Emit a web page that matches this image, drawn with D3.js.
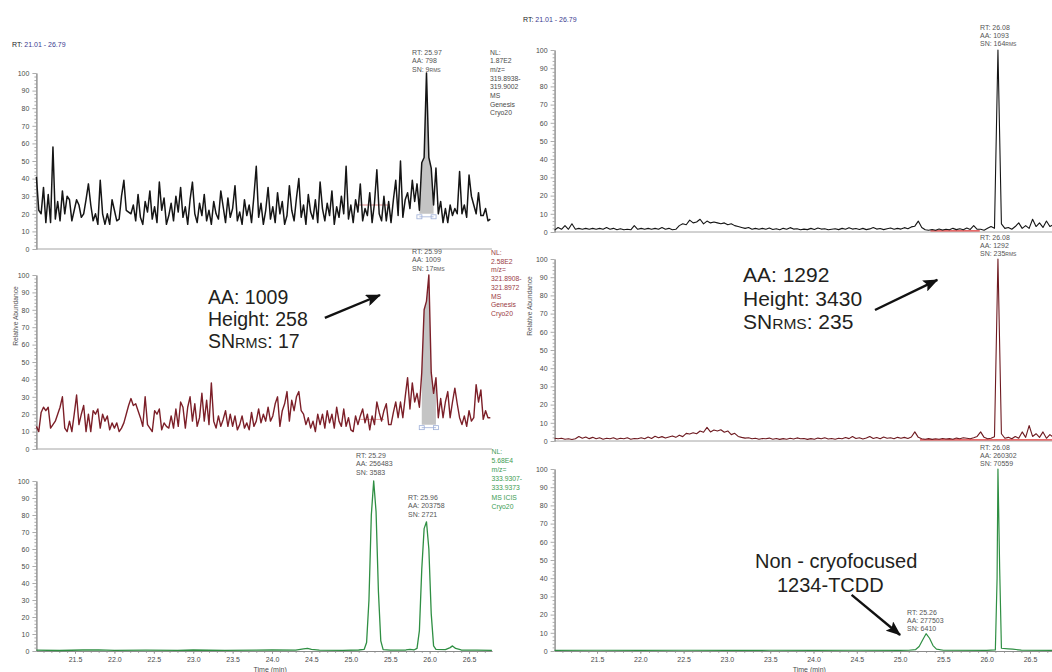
<!DOCTYPE html>
<html>
<head>
<meta charset="utf-8">
<script src="https://d3js.org/d3.v7.min.js"></script>
<style>
  body { margin: 0; background: #fff; }
  text { font-family: "Liberation Sans", Arial, sans-serif; }
</style>
</head>
<body>
<div id="vis"></div>
<script>
// ---- data ----
var timeRange = [21.01, 26.79];
var scanStart = 21.01;
var leftStep = 0.03;   // scan interval of left chromatograms (min)
var rightStep = 0.04;  // scan interval of right chromatograms (min)

// left, m/z 319.8938 (black)
var leftTop = [
  41,22,20,35,15,31,15,58,17,27,
  16,33,20,30,28,16,22,28,25,18,
  20,28,37,25,16,20,14,39,20,14,
  20,14,28,22,16,17,30,39,22,21,
  20,25,16,31,18,14,27,21,33,17,
  24,15,38,22,29,14,19,26,16,30,
  21,35,18,24,14,28,38,20,15,26,
  19,31,16,22,14,27,20,17,33,24,
  15,29,18,23,36,16,21,14,28,19,
  25,15,30,47,18,26,14,22,35,17,
  24,15,32,20,27,14,19,36,22,16,
  29,40,18,25,14,31,21,17,28,15,
  38,23,16,26,19,33,14,24,18,30,
  20,47,17,25,15,28,21,37,16,23,
  19,32,15,26,45,20,16,30,16,27,
  15,28,39,19,50,18,28,32,23,39,
  27,37,22,49,52,100,52,46,25,46,
  20,27,15,23,15,25,19,23,20,44,
  20,25,18,42,30,25,20,32,19,19,
  23,16,17
];

// left, m/z 321.8908 (dark red)
var leftMid = [
  13,10,21,24,22,24,12,14,16,20,
  24,30,12,10,16,10,20,31,14,20,
  25,10,20,10,22,20,23,12,20,16,
  19,11,15,12,15,10,12,15,20,25,
  29,25,26,22,18,13,30,14,12,10,
  22,20,23,11,15,13,12,19,12,23,
  13,27,24,12,24,30,16,26,13,18,
  32,16,28,14,38,16,12,19,13,17,
  22,13,20,13,19,11,14,19,12,15,
  11,21,13,16,23,15,20,16,24,16,
  19,26,30,13,22,26,33,16,28,22,
  30,33,22,20,14,18,12,16,10,20,
  14,20,12,22,15,20,12,24,16,13,
  23,13,18,11,10,19,14,19,23,15,
  20,11,19,14,27,21,16,22,26,14,
  14,21,27,18,27,18,30,41,23,38,
  27,32,24,44,80,85,100,44,32,41,
  18,29,18,27,33,18,27,35,26,18,
  14,19,13,22,16,18,37,27,34,17,
  22,18,18
];

// left, m/z 333.9307 (green)
var leftBotTimes = [21.01,21.3,21.6,21.8,22.0,22.4,22.8,23.0,23.4,23.8,24.0,24.3,24.4,24.45,24.5,24.6,24.9,25.1,25.17,
  25.2,25.23,25.26,25.29,25.32,25.35,25.38,25.41,25.5,25.7,25.75,25.8,25.84,25.87,25.9,25.93,25.96,25.99,26.02,26.05,
  26.08,26.2,26.26,26.29,26.33,26.4,26.6,26.79];
var leftBotValues = [0.5,0.3,0.6,0.7,0.4,0.5,0.4,0.6,0.4,0.5,0.6,0.5,1.2,1.6,1.0,0.5,0.4,0.6,1.0,
  5,30,80,100,82,35,6,0.8,0.5,0.6,1.0,0.6,1.5,12,48,72,76,60,22,3,
  1.0,0.8,2.0,3.0,1.5,0.6,0.5,0.4];

// right, cryofocused (black)
var rightTop = [
  1,2.5,1.5,3.5,1.5,4.5,1.5,2,1.5,2,
  1.5,2,1.5,2,1.5,2.5,1.5,2,1.2,1.8,
  1.2,1.5,1.2,3.5,1.5,2,1.5,2,1.5,2,
  1.5,2.5,1.5,2,1.2,1.5,3.5,4.5,4,6.5,
  5,5.5,7,4.5,6,5,5.5,5,4.5,5,
  4,4.5,3.5,3,2.5,2,2.5,1.5,2,1.5,
  2,1.5,2.2,1.4,1.8,1.2,2,1.5,2.4,1.6,
  1.8,1.2,1.6,1.3,2,1.4,2.2,1.6,1.8,1.2,
  1.5,1.8,1.3,2,1.5,2.4,1.6,1.9,1.4,2,
  1.3,1.7,2.5,1.6,1.9,1.3,1.8,2.2,1.5,2,
  1.6,2.4,1.8,2.8,3.2,6,2.5,1.2,1,1.4,
  1,1.6,1.1,1.5,1.2,2,1.3,1.8,1.2,2.2,
  1.4,3.5,1.5,1.5,1,2,3,2,100,4.5,
  2,2.5,1.5,3,5,2,3.5,2,7,3,
  5,2.5,6,3,4
];

// right, cryofocused (dark red)
var rightMid = [
  1.5,1.2,1.5,1,1.2,0.8,1.2,2.5,1.5,2.2,
  1.3,2,1.2,1.8,1,1.5,1.2,1.8,1,1.5,
  1.2,1.8,1,1.4,1.2,1.8,1.2,2.2,1.4,2.6,
  1.8,2.4,1.6,2.2,2.8,2,3.2,2.4,4.2,3.8,
  4.5,4,5.5,4.8,7.5,5,6,5.5,6.2,4.8,
  5.5,3.5,4.2,2.5,2,1.6,1.8,1.2,1.5,1,
  1.4,1.2,1.6,1,1.4,0.9,1.3,1,1.5,1.1,
  1.7,1.2,1.4,0.9,1.3,1,1.6,1.2,1.8,1.1,
  1.4,1,1.5,1.2,1.9,1.3,2.5,1.4,1.8,1.1,
  1.6,2.5,1.4,1.9,1.2,2.2,1.5,1.8,1.2,2,
  1.5,2,1.4,2.2,5,2,1.2,1,1.3,0.9,
  1.2,1,1.4,1.1,1.3,1,1.6,1.2,1.8,1.5,
  1.2,1.8,2.5,5,2,1.2,1.5,2.4,100,4,
  1.5,2,1.2,2.5,1.5,5,2,8.5,2.5,4,
  2,5,1.5,3.5,2
];

// right, non-cryofocused (green)
var rightBotTimes = [21.01,21.5,22.0,22.5,23.0,23.5,24.0,24.5,25.0,25.1,25.18,25.22,25.26,25.3,25.34,25.38,25.42,25.5,
  26.0,26.1,26.12,26.13,26.15,26.17,26.25,26.3,26.4,26.79];
var rightBotValues = [0.3,0.4,0.3,0.4,0.3,0.4,0.3,0.4,0.3,0.4,0.8,2.5,6,9.5,7,3,1,0.4,
  0.3,0.6,40,100,45,1.5,1.2,1,0.5,0.3];

var yTicks = [0,10,20,30,40,50,60,70,80,90,100];
var xTicks = [21.5,22.0,22.5,23.0,23.5,24.0,24.5,25.0,25.5,26.0,26.5];
var xTickLabels = ["21.5","22.0","22.5","23.0","23.5","24.0","24.5","25.0","25.5","26.0","26.5"];

// ---- drawing ----
var svg = d3.select("#vis").append("svg")
  .attr("width", 1052).attr("height", 672)
  .style("display", "block").style("background", "#fff");

var xL = d3.scaleLinear().domain(timeRange).range([36.4, 491.9]);
var xR = d3.scaleLinear().domain(timeRange).range([554.6, 1055.1]);

function yScale(bottom, top) {
  return d3.scaleLinear().domain([0, 100]).range([bottom, top]);
}
function uniform(vals, step) {
  return vals.map(function(v, i) { return [scanStart + i * step, v]; });
}
function paired(ts, vs) {
  return ts.map(function(t, i) { return [t, vs[i]]; });
}

var panels = {
  lt: {x: xL, y: yScale(249, 73),  data: uniform(leftTop, leftStep),  color: "#151515", w: 1.5},
  lm: {x: xL, y: yScale(449, 275), data: uniform(leftMid, leftStep),  color: "#7c1f28", w: 1.4},
  lb: {x: xL, y: yScale(651, 481), data: paired(leftBotTimes, leftBotValues), color: "#2f8f43", w: 1.3, xAxis: true},
  rt: {x: xR, y: yScale(232, 50),  data: uniform(rightTop, rightStep), color: "#151515", w: 1.1},
  rm: {x: xR, y: yScale(441, 259), data: uniform(rightMid, rightStep), color: "#6e1a20", w: 1.1},
  rb: {x: xR, y: yScale(651, 469), data: paired(rightBotTimes, rightBotValues), color: "#2f8f43", w: 1.2, xAxis: true}
};

var yMinor = d3.range(0, 101, 2).filter(function(d) { return d % 10 !== 0; });
var xMinor = d3.range(21.1, 26.75, 0.1);

function styleAxis(g) {
  g.attr("font-size", 7).attr("font-family", "Liberation Sans, Arial, sans-serif");
  g.selectAll("path.domain").attr("stroke", "#8a8a8a").attr("stroke-width", 0.9);
  g.selectAll(".tick line").attr("stroke", "#8a8a8a").attr("stroke-width", 0.7);
  g.selectAll(".tick text").attr("fill", "#4a4a4a");
}

Object.keys(panels).forEach(function(k) {
  var p = panels[k];
  var x0 = p.x.range()[0];
  var g = svg.append("g");

  // y axis
  g.append("g").attr("transform", "translate(" + x0 + ",0)")
    .call(d3.axisLeft(p.y).tickValues(yMinor).tickSize(2).tickSizeOuter(0).tickFormat(""))
    .call(styleAxis);
  g.append("g").attr("transform", "translate(" + x0 + ",0)")
    .call(d3.axisLeft(p.y).tickValues(yTicks).tickSize(4).tickSizeOuter(0).tickPadding(3).tickFormat(d3.format("d")))
    .call(styleAxis);

  if (p.xAxis) {
    g.append("g").attr("transform", "translate(0," + p.y(0) + ")")
      .call(d3.axisBottom(p.x).tickValues(xMinor).tickSize(2).tickSizeOuter(0).tickFormat(""))
      .call(styleAxis);
    g.append("g").attr("transform", "translate(0," + p.y(0) + ")")
      .call(d3.axisBottom(p.x).tickValues(xTicks).tickSize(3).tickSizeOuter(0).tickPadding(3)
        .tickFormat(function(d, i) { return xTickLabels[i]; }))
      .call(styleAxis);
    g.append("text")
      .attr("x", (p.x.range()[0] + Math.min(p.x.range()[1], 1052)) / 2 + 6)
      .attr("y", 672).attr("text-anchor", "middle")
      .attr("font-size", 7).attr("fill", "#4a4a4a").text("Time (min)");
  } else {
    g.append("line")
      .attr("x1", x0).attr("x2", p.x.range()[1])
      .attr("y1", p.y(0)).attr("y2", p.y(0))
      .attr("stroke", "#9a9a9a").attr("stroke-width", 0.9);
  }
  p.g = g;
});

// noise (baseline) regions drawn in red
var noiseSegs = [
  {panel: "lt", t0: 25.05, t1: 25.5, v: 25, color: "#e08a8a"},
  {panel: "lm", t0: 25.12, t1: 25.42, v: 17, color: "#e8a0a0"},
  {panel: "rt", t0: 25.35, t1: 25.92, v: 0.6, color: "#e03a3a"},
  {panel: "rm", t0: 25.23, t1: 26.79, v: 0.6, color: "#e03a3a"}
];
noiseSegs.forEach(function(s) {
  var p = panels[s.panel];
  p.g.append("line")
    .attr("x1", p.x(s.t0)).attr("x2", p.x(s.t1))
    .attr("y1", p.y(s.v)).attr("y2", p.y(s.v))
    .attr("stroke", s.color).attr("stroke-width", 1.1);
});

// integrated peak areas (index range into the scan arrays, baseline level)
var integ = [
  {panel: "lt", from: 162, to: 168, base: 20},
  {panel: "lm", from: 163, to: 169, base: 14}
];
integ.forEach(function(r) {
  var p = panels[r.panel];
  var pts = p.data.slice(r.from, r.to + 1);
  var area = d3.area()
    .x(function(d) { return p.x(d[0]); })
    .y0(p.y(r.base))
    .y1(function(d) { return p.y(d[1]); });
  p.g.append("path").datum(pts).attr("d", area)
    .attr("fill", "#c4c4c4").attr("stroke", "none");
  var xa = p.x(pts[0][0]), xb = p.x(pts[pts.length - 1][0]), yb = p.y(r.base) + 3;
  p.g.append("line").attr("x1", xa).attr("x2", xb).attr("y1", yb).attr("y2", yb)
    .attr("stroke", "#9fb0d8").attr("stroke-width", 0.8);
  [xa, xb].forEach(function(xx) {
    p.g.append("rect").attr("x", xx - 2.5).attr("y", yb - 2).attr("width", 5).attr("height", 4)
      .attr("fill", "none").attr("stroke", "#9fb0d8").attr("stroke-width", 0.8);
  });
});

// traces
Object.keys(panels).forEach(function(k) {
  var p = panels[k];
  var line = d3.line()
    .x(function(d) { return p.x(d[0]); })
    .y(function(d) { return p.y(d[1]); });
  p.g.append("path").datum(p.data).attr("d", line)
    .attr("fill", "none").attr("stroke", p.color)
    .attr("stroke-width", p.w).attr("stroke-linejoin", "round");
});

// ---- text ----
function rtHeader(x, y) {
  var t = svg.append("text").attr("x", x).attr("y", y).attr("font-size", 7);
  t.append("tspan").attr("fill", "#222").text("RT: ");
  t.append("tspan").attr("fill", "#3b3b8f").text("21.01 - 26.79");
}
rtHeader(12, 47);
rtHeader(523, 22);

function block(x, y, lines, color, size, step) {
  lines.forEach(function(l, i) {
    var t = svg.append("text").attr("x", x).attr("y", y + i * step)
      .attr("font-size", size).attr("fill", color);
    if (typeof l === "string") { t.text(l); }
    else {
      l.forEach(function(part) {
        t.append("tspan").attr("font-size", part[1] ? size * part[1] : size).text(part[0]);
      });
    }
  });
}

var nlLT = ["NL:", "1.87E2", "m/z=", "319.8938-", "319.9002", "MS", "Genesis", "Cryo20"];
var nlLM = ["NL:", "2.58E2", "m/z=", "321.8908-", "321.8972", "MS", "Genesis", "Cryo20"];
var nlLB = ["NL:", "5.68E4", "m/z=", "333.9307-", "333.9373", "MS  ICIS", "Cryo20"];
block(490, 54.5, nlLT, "#4a4a4a", 6.8, 8.7);
block(491, 255, nlLM, "#9a3a44", 6.8, 8.7);
block(491.5, 453.5, nlLB, "#3c9c52", 6.8, 9.2);

var small = "#555";
block(412, 55, ["RT: 25.97", "AA: 798", [["SN: 9"], ["RMS", 0.72]]], small, 7, 8.3);
block(412, 254, ["RT: 25.99", "AA: 1009", [["SN: 17"], ["RMS", 0.72]]], small, 7, 8.3);
block(356, 458, ["RT: 25.29", "AA: 256483", "SN: 3583"], small, 7, 8.3);
block(408, 500, ["RT: 25.96", "AA: 203758", "SN: 2721"], small, 7, 8.3);
block(980, 29.5, ["RT: 26.08", "AA: 1093", [["SN: 164"], ["RMS", 0.72]]], small, 7, 8.3);
block(980, 239.5, ["RT: 26.08", "AA: 1292", [["SN: 235"], ["RMS", 0.72]]], small, 7, 8.3);
block(980, 449.5, ["RT: 26.08", "AA: 260302", "SN: 70559"], small, 7, 8.3);
block(907, 614.5, ["RT: 25.26", "AA: 277503", "SN: 6410"], small, 7, 8.3);

// Relative Abundance labels
[[18, 316], [532, 306]].forEach(function(p) {
  svg.append("text").attr("transform", "translate(" + p[0] + "," + p[1] + ") rotate(-90)")
    .attr("text-anchor", "middle").attr("font-size", 6.7).attr("fill", "#555")
    .text("Relative Abundance");
});

// big annotations
var dark = "#231f20";
block(208, 304, ["AA: 1009", "Height: 258", [["SN"], ["RMS", 0.74], [": 17"]]], dark, 19.5, 22);
block(743, 282, ["AA: 1292", "Height: 3430", [["SN"], ["RMS", 0.74], [": 235"]]], dark, 21, 23.6);
svg.append("text").attr("x", 755).attr("y", 568).attr("font-size", 20).attr("fill", dark).text("Non - cryofocused");
svg.append("text").attr("x", 777).attr("y", 592).attr("font-size", 20).attr("fill", dark).text("1234-TCDD");

// arrows, given in each panel's time / abundance units
svg.append("defs").append("marker")
  .attr("id", "head").attr("markerUnits", "userSpaceOnUse")
  .attr("markerWidth", 16).attr("markerHeight", 12)
  .attr("refX", 14).attr("refY", 6).attr("orient", "auto")
  .append("path").attr("d", "M0,0 L15,6 L0,12 L3,6 Z").attr("fill", "#111");

var arrows = [
  {panel: "lm", from: [24.67, 75.3], to: [25.37, 88.5]},
  {panel: "rm", from: [24.71, 72], to: [25.43, 88.5]},
  {panel: "rb", from: [24.44, 30.8], to: [25.0, 8.8]}
];
arrows.forEach(function(a) {
  var p = panels[a.panel];
  svg.append("line")
    .attr("x1", p.x(a.from[0])).attr("y1", p.y(a.from[1]))
    .attr("x2", p.x(a.to[0])).attr("y2", p.y(a.to[1]))
    .attr("stroke", "#111").attr("stroke-width", 2.4)
    .attr("marker-end", "url(#head)");
});
</script>
</body>
</html>
